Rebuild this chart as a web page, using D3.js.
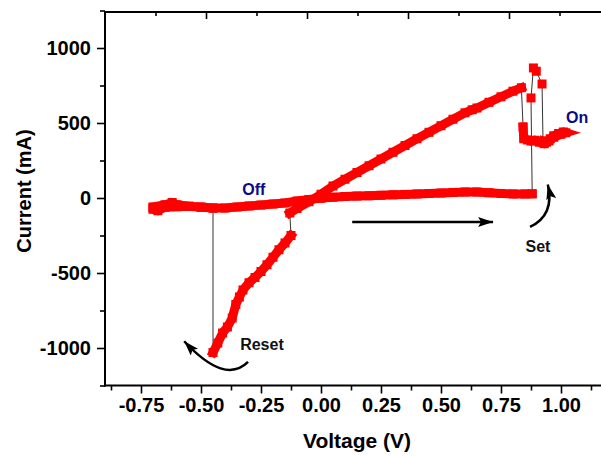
<!DOCTYPE html>
<html>
<head>
<meta charset="utf-8">
<script src="https://cdn.jsdelivr.net/npm/d3@7"></script>
<style>
  body { margin: 0; background: #fff; }
  svg { display: block; }
  text { font-family: "Liberation Sans", Arial, sans-serif; font-weight: bold; }
</style>
</head>
<body>
<svg id="chart" width="601" height="456"></svg>
<script>
// ---- I-V sweep, voltage in V and current in mA ----
// forward sweep in the Off state, 0 -> +0.88 V
const offForwardV = [0.00, 0.05, 0.10, 0.15, 0.20, 0.25, 0.30, 0.35, 0.40, 0.45, 0.50, 0.55, 0.60, 0.65, 0.70, 0.75, 0.80, 0.85, 0.88];
const offForwardI = [0, 5, 10, 13, 15, 18, 21, 24, 27, 30, 33, 37, 40, 40, 35, 30, 27, 27, 28];
// Set transition points
const setJumpV = [0.875, 0.885, 0.897, 0.921];
const setJumpI = [667, 867, 845, 760];
// On state around +1 V (out and back)
const onStateV = [0.925, 0.94, 0.955, 0.97, 0.99, 1.01, 1.02, 1.00, 0.97, 0.95, 0.93, 0.91, 0.89, 0.875, 0.86, 0.845, 0.842];
const onStateI = [380, 372, 395, 415, 430, 440, 435, 425, 405, 380, 362, 372, 385, 380, 387, 395, 473];
// return sweep along the low-resistance line
const onReturnV = [0.835, 0.80, 0.75, 0.70, 0.65, 0.63, 0.60, 0.55, 0.50, 0.45, 0.40, 0.35, 0.30, 0.25, 0.20, 0.15, 0.10, 0.05, 0.00, -0.05, -0.10, -0.13];
const onReturnI = [735, 712, 675, 638, 600, 588, 568, 525, 482, 438, 395, 350, 305, 260, 215, 170, 125, 80, 25, -25, -70, -100];
// negative branch down to Reset
const resetV = [-0.125, -0.15, -0.175, -0.20, -0.225, -0.25, -0.275, -0.30, -0.325, -0.34, -0.355, -0.37, -0.39, -0.41, -0.43, -0.45];
const resetI = [-250, -300, -345, -395, -445, -490, -530, -565, -613, -660, -710, -800, -860, -900, -967, -1030];
// Off state after Reset, out to -0.70 V and back to 0
const offReturnV = [-0.45, -0.50, -0.55, -0.60, -0.62, -0.65, -0.70, -0.70, -0.68, -0.65, -0.60, -0.55, -0.50, -0.45, -0.40, -0.35, -0.30, -0.25, -0.20, -0.15, -0.10, -0.05, 0.00];
const offReturnI = [-67, -62, -55, -45, -30, -45, -60, -75, -85, -62, -58, -55, -60, -67, -67, -60, -53, -47, -40, -33, -20, -10, 0];

// axis ticks
const xMajor = [-0.75, -0.5, -0.25, 0, 0.25, 0.5, 0.75, 1.0];
const xMinor = [-0.875, -0.625, -0.375, -0.125, 0.125, 0.375, 0.625, 0.875, 1.125];
const yMajor = [-1000, -500, 0, 500, 1000];
const yMinor = [-1250, -750, -250, 250, 750, 1250];
const topMajor = [-0.5, 0, 0.5, 1.0];
const topMinor = [-0.75, -0.25, 0.25, 0.75, 1.25];

const zip = (vs, is) => vs.map((v, k) => ({ v: v, i: is[k] }));
const offForward = zip(offForwardV, offForwardI);
const setJump = zip(setJumpV, setJumpI);
const onState = zip(onStateV, onStateI);
const onReturn = zip(onReturnV, onReturnI);
const reset = zip(resetV, resetI);
const offReturn = zip(offReturnV, offReturnI);
const sweep = [].concat(offForward, setJump, onState, onReturn, reset, offReturn);

const svg = d3.select("#chart");
const plotLeft = 105, plotTop = 12, plotBottom = 385.5, plotRight = 609;

const x = d3.scaleLinear().domain([-0.9, 1.2]).range([plotLeft, plotRight]);
const y = d3.scaleLinear().domain([-1250, 1250]).range([plotBottom, 10.5]);
const xTop = d3.scaleLinear().domain([-1, 1.5]).range([plotLeft, 610]);

const RED = "#ff0000";

// thin connecting line of the full sweep
const line = d3.line().x(d => x(d.v)).y(d => y(d.i));
svg.append("path")
  .datum(sweep)
  .attr("d", line)
  .attr("fill", "none")
  .attr("stroke", "#333")
  .attr("stroke-width", 1);

// dense branches drawn as a heavy band of symbols
[offForward, onState, onReturn, reset, offReturn].forEach(branch => {
  svg.append("path")
    .datum(branch)
    .attr("d", line)
    .attr("fill", "none")
    .attr("stroke", RED)
    .attr("stroke-width", 9)
    .attr("stroke-linejoin", "miter")
    .attr("stroke-linecap", "square");
});

// square symbols at every sample
const S = 9;
svg.append("g").selectAll("rect")
  .data(sweep)
  .join("rect")
  .attr("x", d => x(d.v) - S / 2)
  .attr("y", d => y(d.i) - S / 2)
  .attr("width", S)
  .attr("height", S)
  .attr("fill", RED);

// ---- axes ----
const axisStyle = g => {
  g.select(".domain").remove();
  g.selectAll(".tick line").attr("stroke", "#000").attr("stroke-width", 1.6);
  g.selectAll(".tick text").attr("fill", "#000").style("font-size", "20px").style("font-weight", "bold");
};

svg.append("g").attr("transform", `translate(0,${plotBottom})`)
  .call(d3.axisBottom(x).tickValues(xMajor).tickSize(8).tickPadding(4).tickFormat(d => d.toFixed(2)))
  .call(axisStyle);
svg.append("g").attr("transform", `translate(0,${plotBottom})`)
  .call(d3.axisBottom(x).tickValues(xMinor).tickSize(5).tickFormat(""))
  .call(axisStyle);

svg.append("g").attr("transform", `translate(${plotLeft},0)`)
  .call(d3.axisLeft(y).tickValues(yMajor).tickSize(8).tickPadding(6).tickFormat(d => String(d)))
  .call(axisStyle);
svg.append("g").attr("transform", `translate(${plotLeft},0)`)
  .call(d3.axisLeft(y).tickValues(yMinor).tickSize(5).tickFormat(""))
  .call(axisStyle);

// top axis, ticks pointing inward
svg.append("g").attr("transform", `translate(0,${plotTop})`)
  .call(d3.axisBottom(xTop).tickValues(topMajor).tickSize(7).tickFormat(""))
  .call(axisStyle);
svg.append("g").attr("transform", `translate(0,${plotTop})`)
  .call(d3.axisBottom(xTop).tickValues(topMinor).tickSize(4).tickFormat(""))
  .call(axisStyle);

// frame lines
svg.append("g").attr("stroke", "#000").attr("stroke-width", 2)
  .call(g => {
    g.append("line").attr("x1", plotLeft).attr("x2", plotLeft).attr("y1", plotTop).attr("y2", plotBottom + 1);
    g.append("line").attr("x1", plotLeft - 1).attr("x2", 601).attr("y1", plotBottom).attr("y2", plotBottom);
    g.append("line").attr("x1", plotLeft - 1).attr("x2", 601).attr("y1", plotTop).attr("y2", plotTop);
  });

// axis titles
svg.append("text")
  .attr("x", 357).attr("y", 448)
  .attr("text-anchor", "middle")
  .style("font-size", "21px")
  .text("Voltage (V)");
svg.append("text")
  .attr("transform", "translate(31,191) rotate(-90)")
  .attr("text-anchor", "middle")
  .style("font-size", "20px")
  .text("Current (mA)");

// ---- annotations (positioned in data units) ----
const labels = [
  { t: "Off", v: -0.28, i: 20, c: "#0a0a8a" },
  { t: "On", v: 1.067, i: 500, c: "#0a0a8a" },
  { t: "Set", v: 0.904, i: -360, c: "#111" },
  { t: "Reset", v: -0.246, i: -1013, c: "#111" }
];
svg.append("g").selectAll("text")
  .data(labels)
  .join("text")
  .attr("x", d => x(d.v)).attr("y", d => y(d.i))
  .attr("text-anchor", "middle")
  .attr("fill", d => d.c)
  .style("font-size", "16px")
  .text(d => d.t);

const defs = svg.append("defs");
defs.append("marker")
  .attr("id", "head")
  .attr("viewBox", "0 0 15 10")
  .attr("refX", 15).attr("refY", 5)
  .attr("markerWidth", 15).attr("markerHeight", 10)
  .attr("markerUnits", "userSpaceOnUse")
  .attr("orient", "auto")
  .append("path")
  .attr("d", "M0,0 L15,5 L0,10 L3,5 Z")
  .attr("fill", "#000");

// arrows: start, control, end in (V, mA)
const arrows = [
  { p0: [0.13, -160], c: [0.42, -160], p1: [0.717, -160] },
  { p0: [0.871, -193], c: [0.975, -113], p1: [0.945, 90] },
  { p0: [-0.304, -1093], c: [-0.40, -1247], p1: [-0.57, -955] }
];
svg.append("g").selectAll("path")
  .data(arrows)
  .join("path")
  .attr("d", d => `M${x(d.p0[0])},${y(d.p0[1])} Q${x(d.c[0])},${y(d.c[1])} ${x(d.p1[0])},${y(d.p1[1])}`)
  .attr("fill", "none")
  .attr("stroke", "#000")
  .attr("stroke-width", 2.5)
  .attr("marker-end", "url(#head)");
</script>
</body>
</html>
